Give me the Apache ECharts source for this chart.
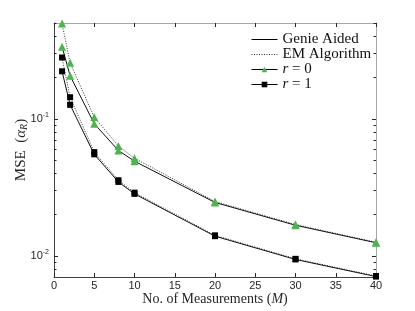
<!DOCTYPE html>
<html><head><meta charset="utf-8">
<script src="https://cdn.jsdelivr.net/npm/echarts@6/dist/echarts.min.js"></script>
<style>html,body{margin:0;padding:0;background:#fff}#c{width:415px;height:311px}</style>
</head><body><div id="c"></div>
<script>
var M = [1, 2, 5, 8, 10, 20, 30, 40];
var r0Genie = [0.336, 0.206, 0.092, 0.0587, 0.049, 0.0245, 0.0167, 0.01245];
var r0EM    = [0.495, 0.256, 0.1028, 0.0633, 0.0515, 0.0249, 0.0169, 0.01255];
var r1Genie = [0.222, 0.1264, 0.0550, 0.0346, 0.0283, 0.0139, 0.0094, 0.00705];
var r1EM    = [0.280, 0.1436, 0.0571, 0.0356, 0.0289, 0.0141, 0.0095, 0.00712];
var xTicks = [0, 5, 10, 15, 20, 25, 30, 35, 40];
var yMajor = [0.01, 0.1];
var yMinor = [0.008, 0.009, 0.02, 0.03, 0.04, 0.05, 0.06, 0.07, 0.08, 0.09, 0.2, 0.3, 0.4, 0.5];
var yLabels = {'0.01': '{b|10}{s|-2}', '0.1': '{b|10}{s|-1}'};

var GREEN = '#4fb34f';
var SANS = 'Liberation Sans';
var SERIF = 'Liberation Serif';
var CLEAR = 'rgba(0,0,0,0)';
function pairs(ys){ return M.map(function(x,i){ return [x, ys[i]]; }); }

var yMin = 0.007, yMax = 0.5;
function yAxisDef(pos, ticks, len, showLabel, lineColor, showLine){
  return {
    type: 'log', logBase: 10, min: yMin, max: yMax, position: pos,
    axisLine: {show: showLine, lineStyle: {color: lineColor, width: 1}},
    axisTick: {show: true, inside: true, length: len, customValues: ticks, lineStyle: {color: '#262626', width: 1}},
    axisLabel: showLabel ? {
      show: true, customValues: yMajor, margin: 5,
      formatter: function(v){ var k = (Math.round(Math.log10(v))===-2)?'0.01':'0.1'; return yLabels[k]; },
      rich: {
        b: {fontFamily: SANS, fontSize: 11, color: '#262626'},
        s: {fontFamily: SANS, fontSize: 7, color: '#262626', padding: [0,0,8,0]}
      }
    } : {show: false},
    splitLine: {show: false},
    minorTick: {show: false},
    name: showLabel ? '{n|MSE  (}{a|α}{sub|R}{n|)}' : '',
    nameLocation: 'middle', nameGap: 25, nameRotate: 90, nameMoveOverlap: false,
    nameTextStyle: {
      rich: {
        n: {fontFamily: SERIF, fontSize: 15, color: '#262626'},
        a: {fontFamily: SERIF, fontSize: 15, fontStyle: 'italic', color: '#262626'},
        sub: {fontFamily: SERIF, fontSize: 10, fontStyle: 'italic', color: '#262626', padding: [6,0,0,0]}
      }
    }
  };
}

var option = {
  animation: false,
  backgroundColor: '#fff',
  grid: {left: 54, right: 39, top: 23, bottom: 34, containLabel: false, outerBoundsMode: 'none'},
  legend: {
    orient: 'vertical', left: 251, top: 32, itemGap: 0, itemWidth: 26, itemHeight: 7,
    lineStyle: {width: 1},
    data: [
      {name: 'Genie Aided', itemStyle: {color: CLEAR, borderColor: CLEAR, opacity: 0}},
      {name: 'EM Algorithm', itemStyle: {color: CLEAR, borderColor: CLEAR, opacity: 0}},
      'r = 0', 'r = 1'],
    textStyle: {fontFamily: SERIF, fontSize: 15, lineHeight: 14.5, color: '#111',
      rich: {i: {fontFamily: SERIF, fontSize: 15, lineHeight: 14.5, fontStyle: 'italic', color: '#111'},
             t: {fontFamily: SERIF, fontSize: 15, lineHeight: 14.5, color: '#111'}}},
    formatter: function(n){ if (n.charAt(0)==='r') return '{i|r}{t|' + n.slice(1) + '}'; return n; },
    backgroundColor: 'transparent', borderWidth: 0, padding: 0
  },
  xAxis: [
    {type: 'value', min: 0, max: 40, interval: 5, position: 'bottom',
     axisLine: {show: true, lineStyle: {color: '#404040', width: 1}},
     axisTick: {show: true, inside: true, length: 4, lineStyle: {color: '#262626'}},
     axisLabel: {show: true, margin: 3, fontFamily: SANS, fontSize: 11, color: '#262626'},
     splitLine: {show: false},
     name: '{n|No. of Measurements (}{i|M}{n|)}', nameLocation: 'middle', nameGap: 15.5, nameMoveOverlap: false,
     nameTextStyle: {rich: {
       n: {fontFamily: SERIF, fontSize: 14, color: '#262626'},
       i: {fontFamily: SERIF, fontSize: 14, fontStyle: 'italic', color: '#262626'}}}
    },
    {type: 'value', min: 0, max: 40, interval: 5, position: 'top',
     axisLine: {show: true, lineStyle: {color: '#a8a8a8', width: 1}},
     axisTick: {show: true, inside: true, length: 4, lineStyle: {color: '#262626'}},
     axisLabel: {show: false}, splitLine: {show: false}}
  ],
  yAxis: [
    yAxisDef('left', yMajor, 4, true, '#404040', true),
    yAxisDef('left', yMinor, 2.5, false, '#404040', false),
    yAxisDef('right', yMajor, 4, false, '#a8a8a8', true),
    yAxisDef('right', yMinor, 2.5, false, '#a8a8a8', false)
  ],
  series: [
    {name: 'Genie Aided', type: 'line', data: [], symbol: 'none', lineStyle: {color: '#000', width: 1}, itemStyle: {color: CLEAR, borderColor: CLEAR}},
    {name: 'EM Algorithm', type: 'line', data: [], symbol: 'none', lineStyle: {color: '#333', width: 1, type: [1,1.5]}, itemStyle: {color: CLEAR, borderColor: CLEAR}},
    {name: 'r = 0', type: 'line', data: [], symbol: 'triangle', symbolSize: 7, lineStyle: {color: '#000', width: 1}, itemStyle: {color: GREEN}},
    {name: 'r = 1', type: 'line', data: [], symbol: 'rect', symbolSize: 6, lineStyle: {color: '#000', width: 1}, itemStyle: {color: '#000'}},

    {name: 'r0 EM', type: 'line', data: pairs(r0EM), symbol: 'triangle', symbolSize: 8,
     lineStyle: {color: '#333', width: 1, type: [1,1.5]}, itemStyle: {color: GREEN}, z: 3},
    {name: 'r0 Genie', type: 'line', data: pairs(r0Genie), symbol: 'triangle', symbolSize: 8,
     lineStyle: {color: '#111', width: 1}, itemStyle: {color: GREEN}, z: 3},
    {name: 'r1 EM', type: 'line', data: pairs(r1EM), symbol: 'rect', symbolSize: 6,
     lineStyle: {color: '#333', width: 1, type: [1,1.5]}, itemStyle: {color: '#000'}, z: 3},
    {name: 'r1 Genie', type: 'line', data: pairs(r1Genie), symbol: 'rect', symbolSize: 6,
     lineStyle: {color: '#111', width: 1}, itemStyle: {color: '#000'}, z: 3}
  ]
};
var chart = echarts.init(document.getElementById('c'), null, {renderer: 'canvas'});
chart.setOption(option);
</script></body></html>
